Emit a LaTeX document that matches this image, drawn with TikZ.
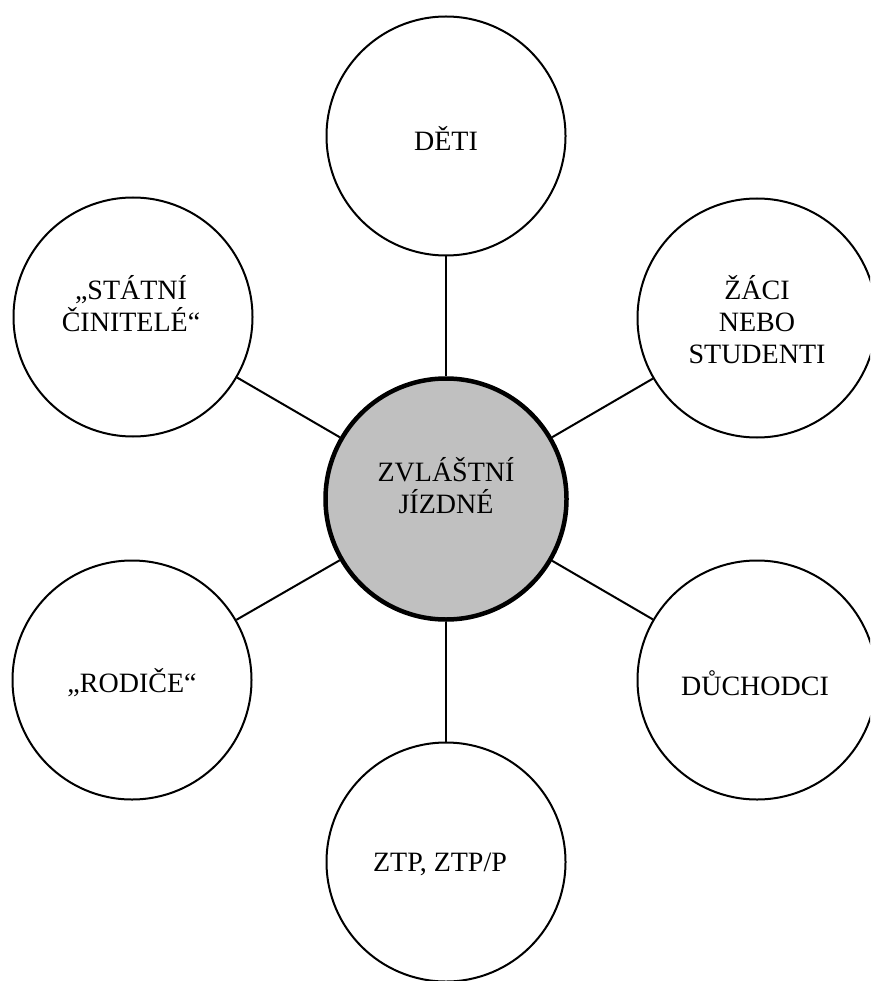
\documentclass[tikz,border=0pt]{standalone}
\usepackage{fontspec}
\setmainfont{Liberation Serif}
\definecolor{hubfill}{RGB}{192,192,192}
\begin{document}
\begin{tikzpicture}[x=1pt,y=-1pt,
  outer/.style={circle,draw=black,line width=2pt,fill=white,minimum size=239pt,inner sep=0pt},
  hub/.style={circle,draw=black,line width=4.5pt,fill=hubfill,minimum size=241pt,inner sep=0pt},
  lbl/.style={align=center,font=\fontsize{28}{32}\selectfont,inner sep=0pt},
  link/.style={line width=2pt,draw=black}]
\useasboundingbox (0,0) rectangle (870,981);
\clip (0,0) rectangle (870,981);
\node[hub] (c) at (446,499) {};
\node[outer] (t) at (446,136) {};
\node[outer] (ul) at (133,317) {};
\node[outer] (ur) at (757,318) {};
\node[outer] (ll) at (132,680) {};
\node[outer] (lr) at (757,680) {};
\node[outer] (b) at (446,862) {};
\draw[link] (c) -- (t);
\draw[link] (c) -- (ul);
\draw[link] (c) -- (ur);
\draw[link] (c) -- (ll);
\draw[link] (c) -- (lr);
\draw[link] (c) -- (b);
\node[lbl] (tc) at (446,139) {DĚTI};
\node[lbl] (cc) at (446,486) {ZVLÁŠTNÍ\\JÍZDNÉ};
\node[lbl] (ulc) at (131,304) {„STÁTNÍ\\ČINITELÉ“};
\node[lbl] (urc) at (757,320) {ŽÁCI\\NEBO\\STUDENTI};
\node[lbl] (llc) at (132,683) {„RODIČE“};
\node[lbl] (lrc) at (755,683) {DŮCHODCI};
\node[lbl] (bc) at (440,864) {ZTP, ZTP/P};
\end{tikzpicture}
\end{document}
